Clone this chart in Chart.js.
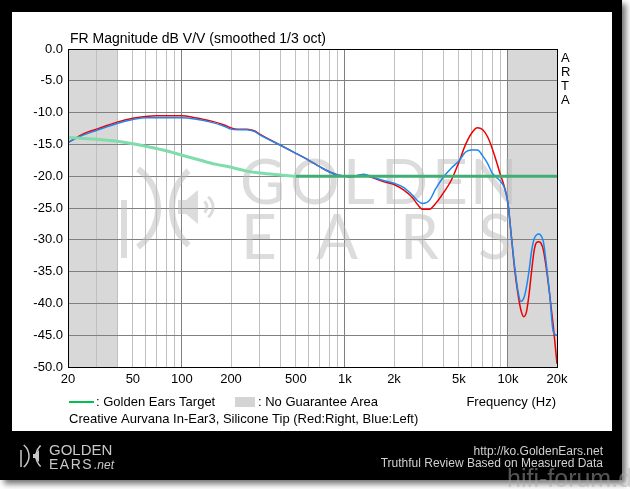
<!DOCTYPE html>
<html>
<head>
<meta charset="utf-8">
<script src="https://cdn.jsdelivr.net/npm/chart.js@4.4.1/dist/chart.umd.min.js"></script>
<style>
  html, body { margin: 0; padding: 0; background: #fff; }
  #chart { display: block; }
</style>
</head>
<body>
<canvas id="chart" width="630" height="489"></canvas>
<script>
// measured points (Hz)
var freqs = [20,25,30,35,40,50,60,70,80,100,120,150,180,200,220,250,280,300,400,500,600,700,800,900,1000,
  1100,1200,1300,1400,1500,1800,2000,2300,2600,2800,3000,3300,3600,4000,4500,5000,5500,6000,6500,7000,
  7500,8000,8500,9000,9500,10000,10500,11000,11500,12000,12500,13000,13500,14000,14500,15000,15500,
  16000,16500,17000,18000,19000,20000];

// right channel (red)
var rightCh = [-14.7,-13.3,-12.6,-12.0,-11.5,-10.9,-10.6,-10.5,-10.5,-10.5,-10.8,-11.3,-11.9,-12.4,-12.6,
  -12.6,-12.9,-13.4,-15.1,-16.4,-17.5,-18.5,-19.3,-19.8,-20.0,-20.1,-19.9,-19.8,-20.0,-20.3,-21.0,-21.3,
  -22.2,-23.4,-24.5,-25.2,-25.2,-24.3,-22.7,-20.6,-17.8,-15.0,-13.2,-12.4,-12.7,-13.8,-15.6,-17.7,-19.8,
  -21.6,-24.2,-29.5,-34.7,-38.4,-41.0,-42.1,-41.3,-38.4,-34.7,-31.6,-30.4,-30.3,-30.6,-31.6,-33.6,-38.4,
  -43.7,-49.5];

// left channel (blue)
var leftCh = [-14.7,-13.5,-12.8,-12.2,-11.7,-11.1,-10.8,-10.8,-10.8,-10.8,-11.0,-11.5,-12.1,-12.6,-12.7,
  -12.7,-13.0,-13.5,-15.1,-16.4,-17.5,-18.5,-19.3,-19.8,-20.0,-20.1,-19.9,-19.7,-19.9,-20.2,-20.8,-21.1,
  -21.8,-23.0,-23.9,-24.3,-23.8,-22.0,-20.2,-18.7,-17.6,-16.2,-15.9,-15.9,-16.8,-18.0,-19.5,-20.2,-20.8,
  -21.8,-24.2,-29.5,-34.2,-37.9,-39.7,-39.2,-37.4,-34.7,-31.6,-29.8,-29.2,-29.1,-29.4,-30.3,-32.7,-38.4,
  -44.5,-45.0];

// golden ears target
var targetFreqs = [20,30,40,50,60,80,100,130,160,200,250,300,400,500,1000,5000,20000];
var targetVals = [-13.9,-14.2,-14.5,-14.9,-15.3,-16.0,-16.7,-17.5,-18.1,-18.6,-19.2,-19.5,-19.8,-20.0,-20.0,-20.0,-20.0];

var gridFreqs = [20,30,40,50,60,70,80,90,100,200,300,400,500,600,700,800,900,1000,
  2000,3000,4000,5000,6000,7000,8000,9000,10000,20000];
var xLabels = {20:'20',50:'50',100:'100',200:'200',500:'500',1000:'1k',2000:'2k',5000:'5k',10000:'10k',20000:'20k'};
var noGuarantee = [[20,40],[10000,20000]];

var FONT = '"Liberation Sans", Arial, sans-serif';

function pts(xs, ys) {
  return xs.map(function(x, i){ return {x: x, y: ys[i]}; });
}

var framePlugin = {
  id: 'frame',
  beforeDraw: function(chart) {
    var c = chart.ctx, a = chart.chartArea, xs = chart.scales.x;
    c.save();
    c.fillStyle = '#fff';
    c.fillRect(0, 0, 630, 489);
    c.shadowColor = 'rgba(0,0,0,0.55)';
    c.shadowBlur = 6;
    c.shadowOffsetX = 4;
    c.shadowOffsetY = 4;
    c.fillStyle = '#000';
    c.fillRect(0, 0, 622, 480);
    c.shadowColor = 'transparent';
    c.fillStyle = '#fff';
    c.fillRect(12, 12, 600, 419);
    c.fillStyle = '#d8d8d8';
    noGuarantee.forEach(function(r){
      var x1 = xs.getPixelForValue(r[0]), x2 = xs.getPixelForValue(r[1]);
      c.fillRect(x1, a.top, x2 - x1, a.bottom - a.top);
    });
    c.restore();
  },
  beforeDatasetsDraw: function(chart) {
    var c = chart.ctx;
    c.save();
    c.fillStyle = 'rgba(185,185,185,0.5)';
    c.strokeStyle = 'rgba(185,185,185,0.5)';
    c.font = '400 62px Lato, "DejaVu Sans", sans-serif';
    c.textBaseline = 'alphabetic';
    var g = ['G','O','L','D','E','N'], gx = [240,290,343,381,432,470];
    g.forEach(function(ch, i){ c.fillText(ch, gx[i], 204); });
    var e = ['E','A','R','S'], ex = [241,316,400,478];
    e.forEach(function(ch, i){ c.fillText(ch, ex[i], 259); });
    // logo mark
    c.lineWidth = 6;
    c.beginPath(); c.moveTo(124, 200); c.lineTo(124, 258); c.stroke();
    c.beginPath(); c.arc(110, 208, 48, -0.95, 0.95); c.stroke();
    c.beginPath(); c.arc(222, 208, 50, 2.3, 3.98); c.stroke();
    c.beginPath();
    c.moveTo(178, 200); c.lineTo(186, 200); c.lineTo(198, 190); c.lineTo(198, 224);
    c.lineTo(186, 214); c.lineTo(178, 214); c.closePath(); c.fill();
    c.lineWidth = 3;
    c.beginPath(); c.arc(200, 207, 7, -0.9, 0.9); c.stroke();
    c.beginPath(); c.arc(200, 207, 13, -0.9, 0.9); c.stroke();
    c.restore();
  },
  afterDraw: function(chart) {
    var c = chart.ctx, a = chart.chartArea;
    c.save();
    c.strokeStyle = '#000';
    c.lineWidth = 1;
    c.strokeRect(a.left + 0.5, a.top + 0.5, a.right - a.left, a.bottom - a.top);

    c.fillStyle = '#000';
    c.font = '14px ' + FONT;
    c.textBaseline = 'alphabetic';
    c.fillText('FR Magnitude dB V/V (smoothed 1/3 oct)', 70, 43);

    c.font = '13px ' + FONT;
    c.textAlign = 'left';
    ['A','R','T','A'].forEach(function(ch, i){ c.fillText(ch, 561, 62 + i * 14); });

    // legend
    c.strokeStyle = '#00c050';
    c.lineWidth = 2;
    c.beginPath(); c.moveTo(69, 402); c.lineTo(94, 402); c.stroke();
    c.fillStyle = '#000';
    c.fillText(': Golden Ears Target', 96, 406);
    c.fillStyle = '#d4d4d4';
    c.fillRect(235, 397, 20, 10);
    c.fillStyle = '#000';
    c.fillText(': No Guarantee Area', 258, 406);
    c.textAlign = 'right';
    c.fillText('Frequency (Hz)', 556, 406);
    c.textAlign = 'left';
    c.fillText('Creative Aurvana In-Ear3, Silicone Tip (Red:Right, Blue:Left)', 69, 423);

    // footer
    c.fillStyle = '#d0d0d0';
    c.font = '12px ' + FONT;
    c.textAlign = 'right';
    c.fillText('http://ko.GoldenEars.net', 603, 455);
    c.fillText('Truthful Review Based on Measured Data', 603, 467);

    c.textAlign = 'left';
    c.fillStyle = '#c8c8c8';
    c.font = '15px ' + FONT;
    c.fillText('GOLDEN', 49, 455);
    c.font = '14px ' + FONT;
    c.letterSpacing = '1.5px';
    c.fillText('EARS', 49, 469);
    c.letterSpacing = '0px';
    c.font = 'italic 12px ' + FONT;
    c.fillText('.net', 94, 469);
    c.strokeStyle = '#c8c8c8';
    c.lineWidth = 1.5;
    c.beginPath(); c.moveTo(21, 450); c.lineTo(21, 467); c.stroke();
    c.beginPath(); c.arc(15, 456, 14, -0.9, 0.9); c.stroke();
    c.beginPath(); c.arc(50, 456, 14, 2.3, 3.98); c.stroke();
    c.beginPath();
    c.moveTo(33, 454); c.lineTo(35, 454); c.lineTo(39, 450); c.lineTo(39, 462);
    c.lineTo(35, 458); c.lineTo(33, 458); c.closePath(); c.fill();

    // hifi-forum watermark
    c.font = '25px ' + FONT;
    c.fillStyle = 'rgba(170,170,170,0.5)';
    c.fillText('hifi-forum.de', 507, 487);
    c.restore();
  }
};

var chart = new Chart(document.getElementById('chart').getContext('2d'), {
  type: 'line',
  data: {
    datasets: [
      {
        label: 'Target',
        data: pts(targetFreqs, targetVals),
        borderColor: '#7fdcab',
        borderWidth: 3,
        pointRadius: 0,
        cubicInterpolationMode: 'monotone',
        segment: {
          borderColor: function(ctx){ return ctx.p0.parsed.x >= 500 ? '#3fae72' : '#7fdcab'; }
        }
      },
      {
        label: 'Left',
        data: pts(freqs, leftCh),
        borderColor: '#1a88f0',
        borderWidth: 1.5,
        pointRadius: 0,
        cubicInterpolationMode: 'monotone'
      },
      {
        label: 'Right',
        data: pts(freqs, rightCh),
        borderColor: '#ee0000',
        borderWidth: 1.5,
        pointRadius: 0,
        cubicInterpolationMode: 'monotone'
      }
    ]
  },
  options: {
    responsive: false,
    animation: false,
    devicePixelRatio: 1,
    layout: { padding: { left: 0, top: 49, right: 73, bottom: 100 } },
    plugins: { legend: { display: false }, tooltip: { enabled: false } },
    scales: {
      x: {
        type: 'logarithmic',
        min: 20,
        max: 20000,
        afterBuildTicks: function(scale){
          scale.ticks = gridFreqs.map(function(v){ return {value: v}; });
        },
        afterFit: function(scale){ scale.height = 22; },
        border: { display: false },
        grid: {
          drawTicks: false,
          color: function(ctx){
            var v = ctx.tick && ctx.tick.value;
            return (v === 100 || v === 1000 || v === 10000) ? '#808080' : '#c0c0c0';
          }
        },
        ticks: {
          autoSkip: false,
          maxRotation: 0,
          padding: 5,
          color: '#000',
          font: { family: FONT, size: 13 },
          callback: function(value){ return xLabels[value] || ''; }
        }
      },
      y: {
        min: -50,
        max: 0,
        afterFit: function(scale){ scale.width = 68; },
        border: { display: false },
        grid: { drawTicks: false, color: '#808080' },
        ticks: {
          stepSize: 5,
          padding: 5,
          color: '#000',
          font: { family: FONT, size: 13 },
          callback: function(value){ return value.toFixed(1); }
        }
      }
    }
  },
  plugins: [framePlugin]
});
</script>
</body>
</html>
